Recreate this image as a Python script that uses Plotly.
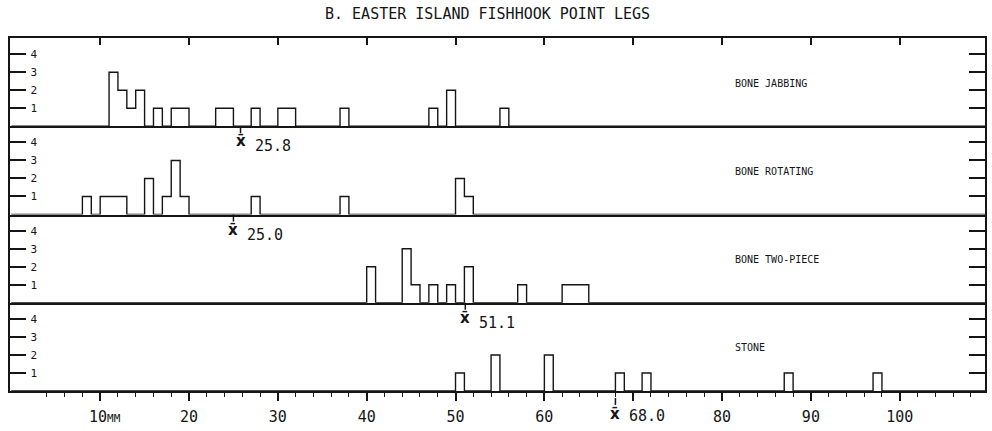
import plotly.graph_objects as go

# ---------------- data ----------------
title_text = "B. EASTER ISLAND FISHHOOK POINT LEGS"
series_names = ["BONE JABBING", "BONE ROTATING", "BONE TWO-PIECE", "STONE"]

jabbing_bins = [11, 12, 13, 14, 16, 18, 19, 23, 24, 27, 30, 31, 37, 47, 49, 55]
jabbing_counts = [3, 2, 1, 2, 1, 1, 1, 1, 1, 1, 1, 1, 1, 1, 2, 1]

rotating_bins = [8, 10, 11, 12, 15, 17, 18, 19, 27, 37, 50, 51]
rotating_counts = [1, 1, 1, 1, 2, 1, 3, 1, 1, 1, 2, 1]

twopiece_bins = [40, 44, 45, 47, 49, 51, 57, 62, 63, 64]
twopiece_counts = [2, 3, 1, 1, 1, 2, 1, 1, 1, 1]

stone_bins = [50, 54, 60, 68, 71, 87, 97]
stone_counts = [1, 2, 2, 1, 1, 1, 1]

means = [25.8, 25.0, 51.1, 68.0]

x_tick_vals = [10, 20, 30, 40, 50, 60, 70, 80, 90, 100]
x_tick_text = ["\u00a010<span style='font-size:11px;color:#151515'>MM</span>",
               "20", "30", "40", "50", "60", "", "80", "90", "100"]
y_tick_vals = [1, 2, 3, 4]
y_tick_text = ["1", "2", "3", "4"]

series_bins = [jabbing_bins, rotating_bins, twopiece_bins, stone_bins]
series_counts = [jabbing_counts, rotating_counts, twopiece_counts, stone_counts]

# ---------------- layout constants ----------------
W, H = 992, 431
M_T, M_B, M_L, M_R = 38, 40, 10, 7
PLOT_H = H - M_T - M_B
X_RANGE = [-0.15, 109.6]
Y_RANGE = [0, 4.9]
INK = "#151515"
MONO = "DejaVu Sans Mono, Liberation Mono, monospace"

fig = go.Figure()

n = len(series_names)
domains = [[1 - (i + 1) / n, 1 - i / n] for i in range(n)]

for i in range(n):
    xa = "x" if i == 0 else f"x{i+1}"
    ya = "y" if i == 0 else f"y{i+1}"
    counts = dict(zip(series_bins[i], series_counts[i]))
    xs = list(range(0, 111))
    ys = [counts.get(v, 0) for v in xs]
    fig.add_trace(go.Scatter(
        x=xs, y=ys, mode="lines", line=dict(shape="hv", color=INK, width=1.4),
        xaxis=xa, yaxis=ya, showlegend=False, hoverinfo="skip", cliponaxis=True,
    ))

layout = dict(
    width=W, height=H,
    margin=dict(t=M_T, b=M_B, l=M_L, r=M_R, autoexpand=False),
    paper_bgcolor="white", plot_bgcolor="white",
    showlegend=False,
    font=dict(family=MONO, color=INK),
)

for i in range(n):
    xk = "xaxis" if i == 0 else f"xaxis{i+1}"
    yk = "yaxis" if i == 0 else f"yaxis{i+1}"
    ya = "y" if i == 0 else f"y{i+1}"
    xa = "x" if i == 0 else f"x{i+1}"
    xaxis = dict(
        range=X_RANGE, domain=[0, 1], anchor=ya,
        showgrid=False, zeroline=False, showline=True, mirror=False,
        linecolor=INK, linewidth=1.5, fixedrange=True, automargin=False,
        showticklabels=False, ticks="", side="bottom",
    )
    if i == 0:
        xaxis.update(side="top", mirror=True, ticks="inside", ticklen=7, tickwidth=1.5,
                     tickcolor=INK, tickmode="array", tickvals=x_tick_vals)
    if i == n - 1:
        xaxis.update(ticks="outside", ticklen=8, tickwidth=1.5, tickcolor=INK,
                     tickmode="array", tickvals=x_tick_vals, ticktext=x_tick_text,
                     showticklabels=True, ticklabelstandoff=3,
                     tickfont=dict(family=MONO, size=15, color=INK),
                     minor=dict(ticks="outside", ticklen=4, tickwidth=1.2, tickcolor=INK,
                                tickmode="array",
                                tickvals=[v for v in range(2, 110, 2) if v % 10 != 0]))
    layout[xk] = xaxis
    layout[yk] = dict(
        range=Y_RANGE, domain=domains[i], anchor=xa,
        showgrid=False, zeroline=False, showline=True, mirror="ticks",
        linecolor=INK, linewidth=1.5, fixedrange=True, automargin=False,
        ticks="inside", ticklen=16, tickwidth=1.5, tickcolor=INK,
        tickmode="array", tickvals=y_tick_vals, ticktext=y_tick_text,
        ticklabelposition="inside", ticklabelstandoff=4,
        tickfont=dict(family=MONO, size=11, color=INK),
    )

fig.update_layout(**layout)

annotations = []
shapes = []

# title
annotations.append(dict(
    text=title_text, xref="paper", yref="paper", x=0.49, y=1, yshift=24,
    xanchor="center", yanchor="middle", showarrow=False,
    font=dict(family=MONO, size=15, color=INK),
))

for i in range(n):
    xa = "x" if i == 0 else f"x{i+1}"
    base = domains[i][0]
    # series label
    annotations.append(dict(
        text=series_names[i], xref="paper", yref="paper",
        x=(733 - M_L) / (W - M_L - M_R), y=base + (domains[i][1] - base) * 0.5,
        yshift=-1, xanchor="left", yanchor="middle", showarrow=False,
        font=dict(family=MONO, size=10, color=INK),
    ))
    # mean marker
    if i < n - 1:
        t0, t1, xbar_dy, num_dy = 0, 7, 15, 20
    else:
        t0, t1, xbar_dy, num_dy = 7, 14, 23, 25
    shapes.append(dict(
        type="line", xref=xa, yref="paper", x0=means[i], x1=means[i],
        y0=base - t0 / PLOT_H, y1=base - t1 / PLOT_H,
        line=dict(color=INK, width=1.5),
    ))
    annotations.append(dict(
        text="<b>x\u0304</b>", xref=xa, yref="paper", x=means[i], y=base,
        yshift=-xbar_dy, xanchor="center", yanchor="middle", showarrow=False,
        font=dict(family="DejaVu Sans", size=15, color=INK),
    ))
    annotations.append(dict(
        text=f"{means[i]:.1f}", xref=xa, yref="paper", x=means[i], y=base,
        xshift=12, yshift=-num_dy, xanchor="left", yanchor="middle", showarrow=False,
        font=dict(family=MONO, size=15, color=INK),
    ))

fig.update_layout(annotations=annotations, shapes=shapes)

fig.write_html(
    "out.html",
    config={"displayModeBar": False, "staticPlot": False},
    post_script="document.body.style.margin='0';document.body.style.overflow='hidden';",
)
